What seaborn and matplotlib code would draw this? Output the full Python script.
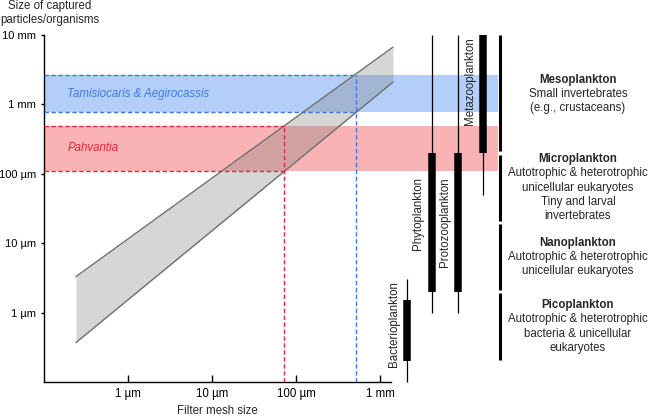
import numpy as np
import pandas as pd
import matplotlib
matplotlib.use("Agg")
import matplotlib.pyplot as plt
import seaborn as sns

# ---------------- data (all sizes in µm) ----------------
x_ticks = [1, 10, 100, 1000]
x_tick_labels = ["1 µm", "10 µm", "100 µm", "1 mm"]
y_ticks = [1, 10, 100, 1000, 10000]
y_tick_labels = ["1 µm", "10 µm", "100 µm", "1 mm", "10 mm"]

mesh_size = [0.24, 1430]
capture_upper = [3.3, 6700]
capture_lower = [0.37, 2100]

taxa = ["Tamisiocaris & Aegirocassis", "Pahvantia"]
taxa_size_low = [770, 110]
taxa_size_high = [2660, 490]
taxa_mesh = [520, 72]

groups = ["Bacterioplankton", "Phytoplankton", "Protozooplankton", "Metazooplankton"]
group_min = [0.1, 1, 1, 50]
group_max = [3, 10000, 10000, 10000]
group_core_min = [0.2, 2, 2, 200]
group_core_max = [1.5, 200, 200, 10000]

size_classes = ["Picoplankton", "Nanoplankton", "Microplankton", "Mesoplankton"]
class_min = [0.2, 2, 20, 200]
class_max = [2, 20, 200, 10000]
class_desc = [
    ["Autotrophic & heterotrophic", "bacteria & unicellular", "eukaryotes"],
    ["Autotrophic & heterotrophic", "unicellular eukaryotes"],
    ["Autotrophic & heterotrophic", "unicellular eukaryotes", "Tiny and larval", "invertebrates"],
    ["Small invertebrates", "(e.g., crustaceans)"],
]

# ---------------- style ----------------
sns.set_theme(style="ticks")
plt.rcParams["font.family"] = ["Liberation Sans", "DejaVu Sans"]
FS = 8.3
W, H = 649, 416
fig = plt.figure(figsize=(W / 100, H / 100), dpi=100)
L, R, T, B = 44, 498, 35, 382
ax = fig.add_axes([L / W, 1 - B / H, (R - L) / W, (B - T) / H])
ax.set_xscale("log")
ax.set_yscale("log")
ax.set_xlim(0.1, 10 ** 4.405)
ax.set_ylim(0.1, 10000)

band_fill = ["#b3cff9", "#f9b3b5"]
band_line = ["#3b7be0", "#e3283a"]

# bands
for i in range(len(taxa)):
    ax.axhspan(taxa_size_low[i], taxa_size_high[i], color=band_fill[i], lw=0, zorder=1)

# gray filter band
ax.fill_between(mesh_size, capture_lower, capture_upper, color="#808080", alpha=0.32, lw=0, zorder=2)
df = pd.DataFrame({"mesh": mesh_size * 2,
                   "size": capture_upper + capture_lower,
                   "edge": ["upper"] * 2 + ["lower"] * 2})
sns.lineplot(data=df, x="mesh", y="size", units="edge", estimator=None,
             color="#6f6f6f", lw=1.0, ax=ax, zorder=3, legend=False)

# dashed guide lines
for i in range(len(taxa)):
    ax.hlines([taxa_size_low[i], taxa_size_high[i]], 0.1, taxa_mesh[i],
              colors=band_line[i], linestyles=(0, (3.2, 1.8)), lw=1.0, zorder=4)
    ax.vlines(taxa_mesh[i], 0.1, taxa_size_high[i],
              colors=band_line[i], linestyles=(0, (3.2, 1.8)), lw=1.0, zorder=4)
    ax.text(0.19, np.sqrt(taxa_size_low[i] * taxa_size_high[i]), taxa[i],
            color=band_line[i], style="italic", fontsize=FS, ha="left", va="center", zorder=5)

# plankton group bars
ytr = ax.get_yaxis_transform()
bar_x = [0.80, 0.855, 0.912, 0.967]
label_x = [0.772, 0.824, 0.883, 0.938]
label_top = [2.8, 90, 90, 9300]
for i in range(len(groups)):
    ax.vlines(bar_x[i], group_min[i], group_max[i], colors="black", lw=0.9,
              transform=ytr, clip_on=False, zorder=6)
    ax.vlines(bar_x[i], group_core_min[i], group_core_max[i], colors="black", lw=5.4,
              transform=ytr, clip_on=False, zorder=6)
    ax.text(label_x[i], label_top[i], groups[i], rotation=90, ha="center", va="top",
            fontsize=FS, transform=ytr, zorder=6)

# size class brackets and descriptions
gap = 10 ** (1.6 / 69.4)
for i in range(len(size_classes)):
    lo, hi = class_min[i] * gap, class_max[i] / gap
    if i == len(size_classes) - 1:
        hi = class_max[i]
    ax.vlines(1.004, lo, hi, colors="black", lw=2.2, transform=ytr, clip_on=False)
    yc = np.sqrt(class_min[i] * class_max[i])
    lines = [size_classes[i]] + class_desc[i]
    n = len(lines)
    for j, txt in enumerate(lines):
        off = (j - (n - 1) / 2) * 14.2
        ax.annotate(txt, xy=(1.176, yc), xycoords=ytr, xytext=(0, -off),
                    textcoords="offset pixels", ha="center", va="center",
                    fontsize=FS, fontweight="bold" if j == 0 else "normal",
                    annotation_clip=False)

# axes
sns.despine(ax=ax)
ax.spines["bottom"].set_bounds(0.1, 10 ** 3.13)
for s in ["left", "bottom"]:
    ax.spines[s].set_linewidth(1.0)
    ax.spines[s].set_color("black")
ax.set_xticks(x_ticks)
ax.set_xticklabels(x_tick_labels, fontsize=FS)
ax.set_yticks(y_ticks)
ax.set_yticklabels(y_tick_labels, fontsize=8.0)
ax.minorticks_off()
ax.tick_params(axis="x", direction="in", length=5, width=1.0, pad=4, colors="black")
ax.tick_params(axis="y", direction="out", length=2.5, width=1.0, pad=3, colors="black")
ax.set_xlabel("")
ax.set_ylabel("")
fig.text(217 / W, 1 - 411 / H, "Filter mesh size", ha="center", va="center", fontsize=FS)
fig.text(50 / W, 1 - 6 / H, "Size of captured", ha="center", va="center", fontsize=FS)
fig.text(50 / W, 1 - 20 / H, "particles/organisms", ha="center", va="center", fontsize=FS)

fig.savefig("out.png", dpi=100)
